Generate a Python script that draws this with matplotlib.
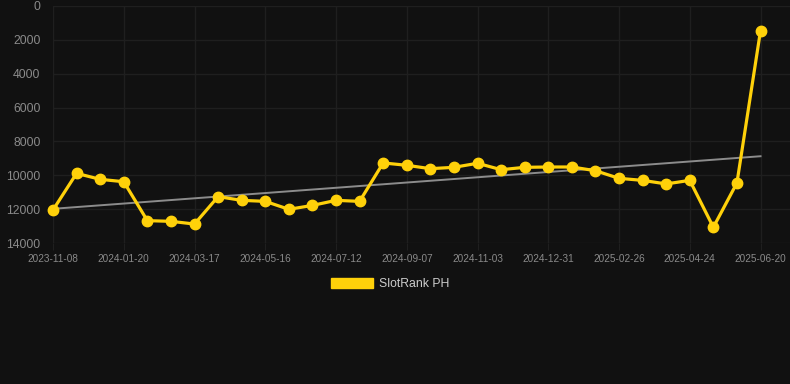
import matplotlib
matplotlib.use("Agg")
import matplotlib.pyplot as plt
from matplotlib.patches import Patch
import numpy as np

tick_labels = ["2023-11-08", "2024-01-20", "2024-03-17", "2024-05-16", "2024-07-12",
               "2024-09-07", "2024-11-03", "2024-12-31", "2025-02-26", "2025-04-24",
               "2025-06-20"]
ranks = [12050, 9885, 10240, 10380, 12680, 12720, 12880, 11260, 11480, 11540,
         12010, 11780, 11480, 11540, 9270, 9410, 9610, 9530, 9290, 9670,
         9530, 9510, 9510, 9730, 10180, 10300, 10510, 10300, 13070, 10450, 1460]
series_name = "SlotRank PH"

BG = "#111111"
GOLD = "#FFD10A"
GRID = "#1f1f1f"
TXT = "#8a8a8a"

plt.rcParams['font.family'] = ['Liberation Sans', 'DejaVu Sans']

fig = plt.figure(figsize=(7.9, 3.84), dpi=100, facecolor=BG)
ax = fig.add_axes([53/790, 1-243/384, (790-53)/790, (243-6)/384])
ax.set_facecolor(BG)

x = np.arange(len(ranks))
ax.plot(x, ranks, color=GOLD, lw=2.3, marker='o', ms=7.5, zorder=3, clip_on=False)

coef = np.polyfit(x, ranks, 1)
ax.plot(x, np.polyval(coef, x), color="#8c8c8c", lw=1.4, zorder=2)

ax.set_ylim(14000, 0)
ax.set_yticks(np.arange(0, 14001, 2000))
ax.set_xlim(0, 31.25)
ax.set_xticks(x[::3])
ax.set_xticklabels(tick_labels)
ax.grid(True, color=GRID, lw=1.0)
for s in ax.spines.values():
    s.set_visible(False)
ax.tick_params(axis='y', length=0, pad=9, labelsize=8.8, labelcolor=TXT)
ax.tick_params(axis='x', length=5, color=GRID, pad=3, labelsize=7.2, labelcolor=TXT)

handle = Patch(facecolor=GOLD, edgecolor=GOLD)
fig.legend([handle], [series_name], loc='center', bbox_to_anchor=(390/790, 1-284/384),
           frameon=False, fontsize=8.8, labelcolor="#cccccc",
           handlelength=3.4, handleheight=0.9, handletextpad=0.5)

fig.savefig("out.png", dpi=100, facecolor=BG)
